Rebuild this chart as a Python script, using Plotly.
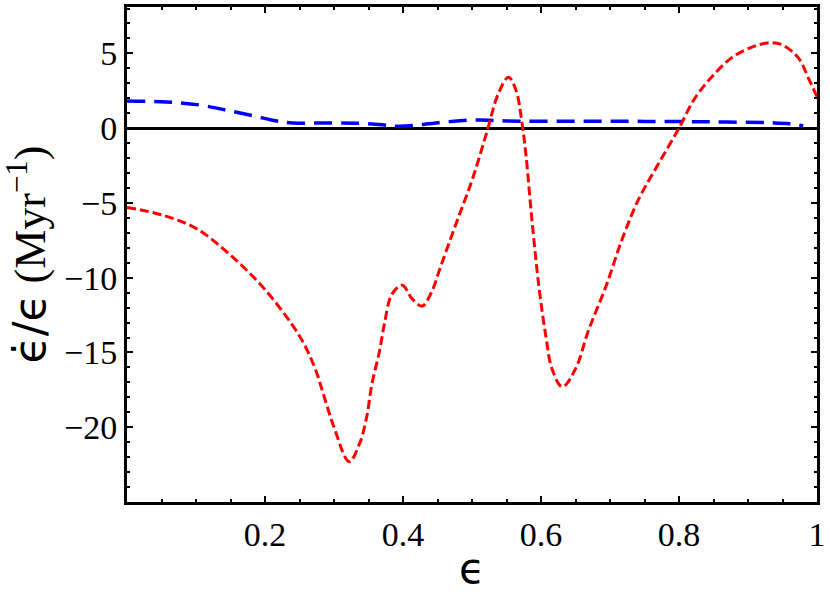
import plotly.graph_objects as go

# Blue dashed curve
blue_x = [0.0, 0.057, 0.105, 0.144, 0.183, 0.211, 0.24, 0.298, 0.337, 0.37, 0.395,
          0.43, 0.47, 0.51, 0.55, 0.65, 0.75, 0.85, 0.93, 0.96, 0.98]
blue_y = [1.82, 1.75, 1.55, 1.2, 0.82, 0.53, 0.35, 0.35, 0.33, 0.22, 0.12,
          0.25, 0.45, 0.55, 0.48, 0.46, 0.45, 0.42, 0.36, 0.3, 0.15]

# Red dashed curve
red_x = [0.0, 0.05, 0.1, 0.15, 0.2, 0.25, 0.272, 0.286, 0.30, 0.322, 0.337, 0.347,
         0.355, 0.366, 0.373, 0.384, 0.399, 0.413, 0.428, 0.442, 0.452, 0.462,
         0.48, 0.50, 0.52, 0.539, 0.553, 0.564, 0.572, 0.578, 0.587, 0.597, 0.607,
         0.616, 0.631, 0.65, 0.669, 0.694, 0.717, 0.741, 0.77, 0.80, 0.823, 0.847,
         0.876, 0.905, 0.929, 0.948, 0.973, 0.987, 1.0]
red_y = [-5.3, -5.8, -6.7, -8.5, -10.8, -13.9, -16.0, -18.0, -20.0, -22.3, -21.1, -19.4,
         -17.1, -14.9, -13.1, -11.1, -10.5, -11.4, -11.9, -10.9, -9.6, -8.3,
         -6.0, -3.5, -0.5, 2.4, 3.4, 2.5, 0.5, -1.7, -6.2, -10.6, -13.9,
         -16.1, -17.3, -16.1, -13.5, -10.6, -7.5, -4.8, -2.4, 0.0, 2.0, 3.4,
         4.7, 5.4, 5.7, 5.6, 4.7, 3.4, 2.1]

x_ticks = [0.2, 0.4, 0.6, 0.8, 1.0]
x_labels = ["0.2", "0.4", "0.6", "0.8", "1"]
y_ticks = [-20, -15, -10, -5, 0, 5]
y_labels = ["\u221220", "\u221215", "\u221210", "\u22125", "0", "5"]

fig = go.Figure()
fig.add_trace(go.Scatter(x=blue_x, y=blue_y, mode="lines",
                         line=dict(color="#0000ff", width=3.5, dash="18px,9px", shape="spline")))
fig.add_trace(go.Scatter(x=red_x, y=red_y, mode="lines",
                         line=dict(color="#ff0000", width=3, dash="9px,4px", shape="spline")))

serif = "Liberation Serif, Times New Roman, serif"
axis_common = dict(showline=True, linecolor="black", linewidth=3, mirror="ticks",
                   ticks="inside", ticklen=6, tickwidth=2, tickcolor="black",
                   showgrid=False, tickfont=dict(family=serif, size=34, color="black"))

fig.update_xaxes(range=[0, 1], tickvals=x_ticks, ticktext=x_labels, zeroline=False,
                 ticklabeloverflow="allow",
                 minor=dict(dtick=0.05, ticks="inside", ticklen=3, tickwidth=1.5, tickcolor="black"),
                 title=dict(text="\u03f5", font=dict(family="DejaVu Sans", size=42, color="black"),
                            standoff=2),
                 **axis_common)
fig.update_yaxes(range=[-25, 8.1], tickvals=y_ticks, ticktext=y_labels,
                 zeroline=True, zerolinecolor="black", zerolinewidth=3,
                 minor=dict(dtick=1, ticks="inside", ticklen=3, tickwidth=1.5, tickcolor="black"),
                 title=dict(text="<span style='font-family:DejaVu Sans'>\u03f5\u0307/\u03f5</span> (Myr<sup>\u22121</sup>)",
                            font=dict(family=serif, size=44, color="black"), standoff=6),
                 **axis_common)

fig.update_layout(width=830, height=598, showlegend=False,
                  margin=dict(l=127, r=11, t=4, b=96),
                  plot_bgcolor="white", paper_bgcolor="white")

# the default page keeps an 8px body margin; drop it so the figure sits at the corner
fig.write_html("out.html", config={"displayModeBar": False},
               post_script="document.body.style.margin='0';")
